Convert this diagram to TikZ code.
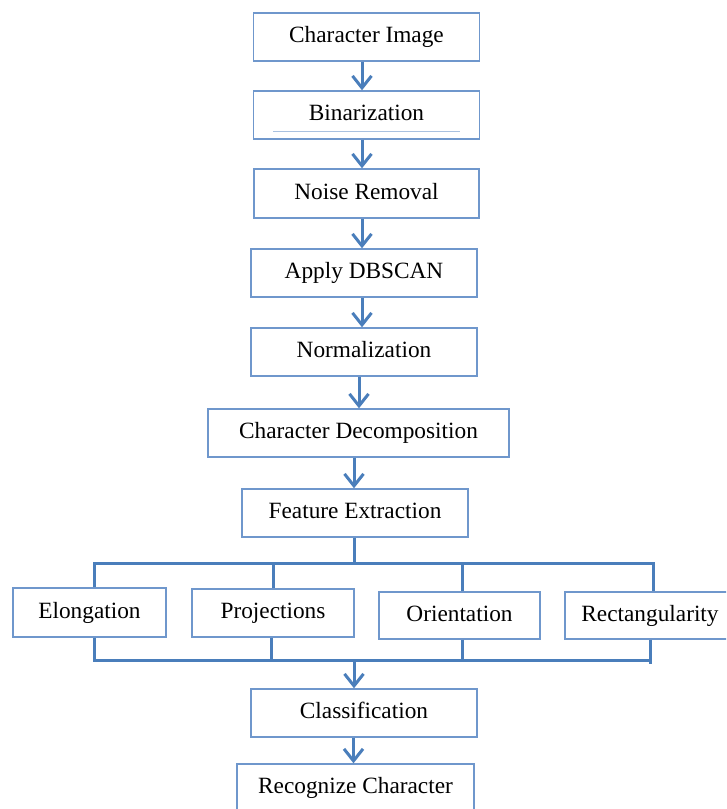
\documentclass[tikz,border=0pt]{standalone}
\usepackage{fontspec}
\setmainfont{Liberation Serif}
\usetikzlibrary{arrows.meta}
\definecolor{boxblue}{HTML}{6F97CC}
\definecolor{linkblue}{HTML}{4A7EBB}
\tikzset{
  stage/.style={draw=boxblue, line width=1.4pt, fill=white, minimum width=226pt,
    minimum height=48pt, inner sep=0pt, text height=16pt, text depth=5pt,
    font=\fontsize{23.3}{28}\selectfont},
  link/.style={draw=linkblue, line width=3pt},
  flow/.style={link, -{Straight Barb[length=12pt,width=19pt]}}
}
\begin{document}
\begin{tikzpicture}[x=1pt, y=-1pt]
  \clip (0,0) rectangle (726,809);
  \fill[white] (0,0) rectangle (726,809);

  % Chaîne principale
  \node[stage] (cimg) at (366.5, 37) {Character Image};
  \node[stage] (bin) at (366.5, 115) {Binarization};
  \node[stage, minimum width=225pt, minimum height=49pt] (noise) at (366.5, 193.5) {Noise Removal};
  \node[stage] (dbscan) at (364, 273) {Apply DBSCAN};
  \node[stage] (norm) at (364, 352) {Normalization};
  \node[stage, minimum width=301pt] (decomp) at (358.5, 433) {Character Decomposition};
  \node[stage] (feat) at (355, 513) {Feature Extraction};

  % Caractéristiques
  \node[stage, minimum width=153pt, minimum height=49pt] (elong) at (89.5, 612.5) {Elongation};
  \node[stage, minimum width=162pt] (proj) at (273, 613) {Projections};
  \node[stage, minimum width=161pt, minimum height=47pt] (orient) at (459.5, 615.5) {Orientation};
  \node[stage, minimum width=170pt, minimum height=47pt] (rect) at (650, 615.5) {Rectangularity};

  % Fin de chaîne
  \node[stage] (classif) at (364, 713) {Classification};
  \node[stage, minimum width=237pt] (recog) at (355.5, 788) {Recognize Character};

  % Trait fin dans Binarization
  \draw[boxblue!60, line width=0.5pt] ([xshift=-93.5pt, yshift=8pt]bin.south) -- ([xshift=93.5pt, yshift=8pt]bin.south);

  % Flèches
  \draw[flow] ([xshift=-4.5pt]cimg.south) -- ([xshift=-4.5pt]cimg.south |- bin.north);
  \draw[flow] ([xshift=-4.5pt]bin.south) -- ([xshift=-4.5pt]bin.south |- noise.north);
  \draw[flow] ([xshift=-4.5pt]noise.south) -- ([xshift=-4.5pt]noise.south |- dbscan.north);
  \draw[flow] ([xshift=-2pt]dbscan.south) -- ([xshift=-2pt]dbscan.south |- norm.north);
  \draw[flow] ([xshift=-5pt]norm.south) -- ([xshift=-5pt]norm.south |- decomp.north);
  \draw[flow] ([xshift=-4.5pt]decomp.south) -- ([xshift=-4.5pt]decomp.south |- feat.north);

  % Bus supérieur
  \coordinate (upbus) at (0, 563);
  \draw[link] ([xshift=-1pt]feat.south) -- ([xshift=-1pt]feat.south |- upbus);
  \draw[link] ([xshift=4.5pt]elong.north) -- ([xshift=4.5pt]elong.north |- upbus)
    -- ([xshift=3pt]rect.north |- upbus) -- ([xshift=3pt]rect.north);
  \draw[link] (proj.north) -- (proj.north |- upbus);
  \draw[link] ([xshift=2.5pt]orient.north) -- ([xshift=2.5pt]orient.north |- upbus);

  % Bus inférieur
  \coordinate (lowbus) at (0, 660);
  \draw[link] ([xshift=4.5pt]elong.south) -- ([xshift=4.5pt]elong.south |- lowbus)
    -- (rect.south |- lowbus) -- ([yshift=-4pt]rect.south |- lowbus);
  \draw[link] (rect.south) -- (rect.south |- lowbus);
  \draw[link] ([xshift=-2pt]proj.south) -- ([xshift=-2pt]proj.south |- lowbus);
  \draw[link] ([xshift=2.5pt]orient.south) -- ([xshift=2.5pt]orient.south |- lowbus);

  \draw[flow] ([xshift=-10pt]classif.north |- lowbus) -- ([xshift=-10pt]classif.north);
  \draw[flow] ([xshift=-10.5pt]classif.south) -- ([xshift=-10.5pt]classif.south |- recog.north);
\end{tikzpicture}
\end{document}
